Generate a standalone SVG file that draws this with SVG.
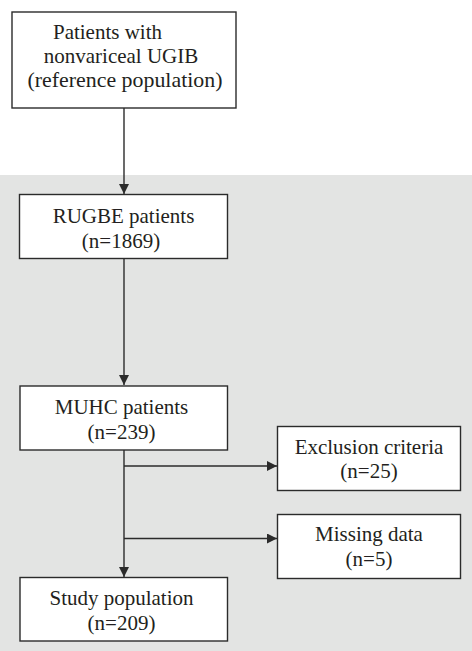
<svg xmlns="http://www.w3.org/2000/svg" width="472" height="651" viewBox="0 0 472 651">
<style>
.box{fill:#fff;stroke:#2b2b2b;stroke-width:1.4}
.t{font-family:"Liberation Serif","Times New Roman",serif;font-size:21px;fill:#231f20;text-anchor:middle}
.c{stroke:#2b2b2b;stroke-width:1.4;fill:none}
</style>
<defs>
<marker id="ah" viewBox="0 0 10 10" refX="10" refY="5" markerWidth="10" markerHeight="10" markerUnits="userSpaceOnUse" orient="auto">
<path d="M0,0 L10,5 L0,10 z" fill="#2b2b2b"/>
</marker>
</defs>
<rect x="0" y="0" width="472" height="651" fill="#ffffff"/>
<rect x="0" y="175" width="472" height="476" fill="#e3e4e3"/>
<g id="connectors">
<line class="c" x1="124" y1="108" x2="124" y2="194" marker-end="url(#ah)"/>
<line class="c" x1="124" y1="259" x2="124" y2="385" marker-end="url(#ah)"/>
<line class="c" x1="124" y1="450" x2="124" y2="577" marker-end="url(#ah)"/>
<line class="c" x1="124" y1="466" x2="277" y2="466" marker-end="url(#ah)"/>
<line class="c" x1="124" y1="538.5" x2="277" y2="538.5" marker-end="url(#ah)"/>
</g>
<g id="reference">
<rect class="box" x="12" y="12" width="224" height="96"/>
<text class="t" x="107.5" y="39">Patients with</text>
<text class="t" x="121" y="63">nonvariceal UGIB</text>
<text class="t" x="125" y="87" textLength="195" lengthAdjust="spacingAndGlyphs">(reference population)</text>
</g>
<g id="rugbe">
<rect class="box" x="19.5" y="194.5" width="208" height="64"/>
<text class="t" x="123.5" y="222.5">RUGBE patients</text>
<text class="t" x="121" y="247.5">(n=1869)</text>
</g>
<g id="muhc">
<rect class="box" x="20" y="386" width="207.5" height="64"/>
<text class="t" x="121.5" y="414">MUHC patients</text>
<text class="t" x="121.5" y="438.5">(n=239)</text>
</g>
<g id="exclusion">
<rect class="box" x="277.5" y="426.5" width="183" height="64"/>
<text class="t" x="369" y="453.5">Exclusion criteria</text>
<text class="t" x="369" y="478">(n=25)</text>
</g>
<g id="missing">
<rect class="box" x="277.5" y="514.5" width="183" height="64"/>
<text class="t" x="369" y="541">Missing data</text>
<text class="t" x="369" y="566">(n=5)</text>
</g>
<g id="study">
<rect class="box" x="20" y="577.5" width="207.5" height="63.5"/>
<text class="t" x="121.5" y="605">Study population</text>
<text class="t" x="121.5" y="630">(n=209)</text>
</g>
</svg>
